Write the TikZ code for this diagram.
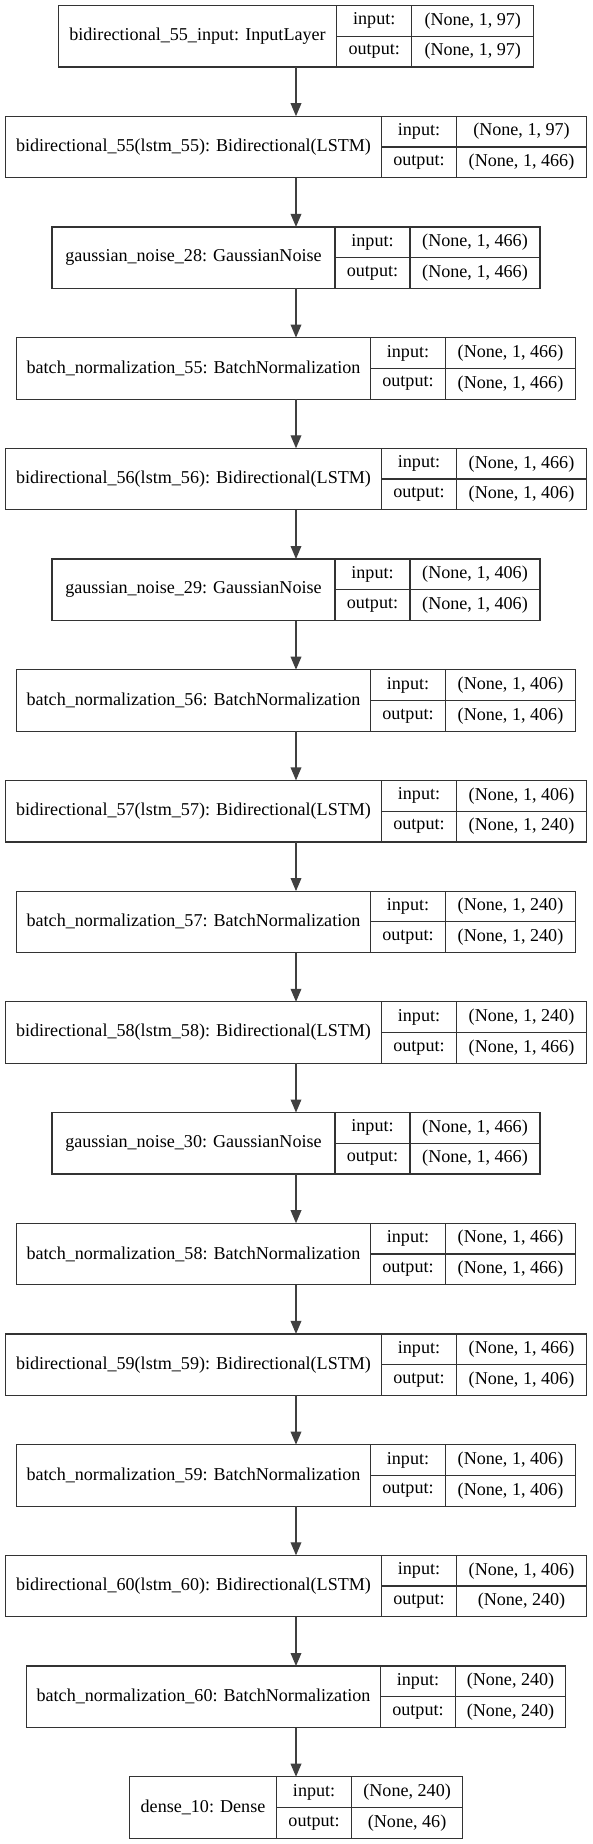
\documentclass[tikz,border=0pt]{standalone}
\usepackage{fontspec}
\setmainfont{Liberation Serif}
\usepackage{tikz}
\usetikzlibrary{arrows.meta,positioning,fit}

\begin{document}
\begin{tikzpicture}[x=1pt,y=-1pt,>={Triangle[length=13pt,width=10.7pt]}]
	\tikzstyle{cell} = [draw=black!80, line width=1.2pt, inner sep=0pt, outer sep=0pt, font=\fontsize{18.1}{21}\selectfont]
	\tikzstyle{namecell} = [cell, minimum height=61.5pt]
	\tikzstyle{iocell} = [cell, minimum height=30.75pt, minimum width=75pt]
	\tikzstyle{valcell} = [cell, minimum height=30.75pt]
	\tikzstyle{layer} = [inner sep=0pt, outer sep=0pt]
	\tikzstyle{flow} = [->, draw=black!75, line width=1.2pt]
	
	\useasboundingbox (0,0) rectangle (592,1844);
	
	\foreach \lname/\nw/\vw/\vin/\vout [count=\i] in {
		{bidirectional\_55\_input: InputLayer}/278.5/122/{(None, 1, 97)}/{(None, 1, 97)},
		{bidirectional\_55(lstm\_55): Bidirectional(LSTM)}/376/130/{(None, 1, 97)}/{(None, 1, 466)},
		{gaussian\_noise\_28: GaussianNoise}/283/130/{(None, 1, 466)}/{(None, 1, 466)},
		{batch\_normalization\_55: BatchNormalization}/354/130/{(None, 1, 466)}/{(None, 1, 466)},
		{bidirectional\_56(lstm\_56): Bidirectional(LSTM)}/376/130/{(None, 1, 466)}/{(None, 1, 406)},
		{gaussian\_noise\_29: GaussianNoise}/283/130/{(None, 1, 406)}/{(None, 1, 406)},
		{batch\_normalization\_56: BatchNormalization}/354/130/{(None, 1, 406)}/{(None, 1, 406)},
		{bidirectional\_57(lstm\_57): Bidirectional(LSTM)}/376/130/{(None, 1, 406)}/{(None, 1, 240)},
		{batch\_normalization\_57: BatchNormalization}/354/130/{(None, 1, 240)}/{(None, 1, 240)},
		{bidirectional\_58(lstm\_58): Bidirectional(LSTM)}/376/130/{(None, 1, 240)}/{(None, 1, 466)},
		{gaussian\_noise\_30: GaussianNoise}/283/130/{(None, 1, 466)}/{(None, 1, 466)},
		{batch\_normalization\_58: BatchNormalization}/354/130/{(None, 1, 466)}/{(None, 1, 466)},
		{bidirectional\_59(lstm\_59): Bidirectional(LSTM)}/376/130/{(None, 1, 466)}/{(None, 1, 406)},
		{batch\_normalization\_59: BatchNormalization}/354/130/{(None, 1, 406)}/{(None, 1, 406)},
		{bidirectional\_60(lstm\_60): Bidirectional(LSTM)}/376/130/{(None, 1, 406)}/{(None, 240)},
		{batch\_normalization\_60: BatchNormalization}/354/110/{(None, 240)}/{(None, 240)},
		{dense\_10: Dense}/147.2/111/{(None, 240)}/{(None, 46)}%
	}{
		\node [namecell, minimum width=\nw pt] (n\i) at ({296-(75+\vw)/2}, {36.25+(\i-1)*110.7}) {\lname};
		\node [iocell, anchor=north west] (i\i) at (n\i.north east) {input:};
		\node [iocell, below=0pt of i\i] (o\i) {output:};
		\node [valcell, minimum width=\vw pt, right=0pt of i\i] (vi\i) {\vin};
		\node [valcell, minimum width=\vw pt, right=0pt of o\i] (vo\i) {\vout};
		\node [layer, fit=(n\i)(vo\i)] (l\i) {};
	}
	
	% arrows between the layers
	\foreach \i [remember=\i as \j (initially 1)] in {2,...,17}
		\draw [flow] (l\j) -- (l\i);
\end{tikzpicture}
\end{document}
